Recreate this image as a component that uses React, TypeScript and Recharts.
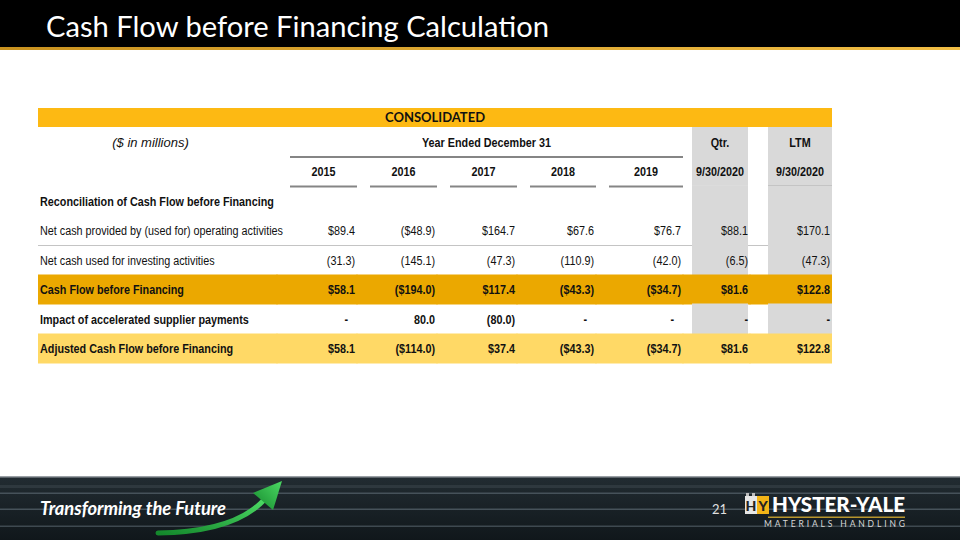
import { ComposedChart, Bar, XAxis, YAxis } from "recharts";

// ---- table content ----
const unitsNote = "($ in millions)";
const yearGroup = "Year Ended December 31";
const qtrGroup = "Qtr.";
const ltmGroup = "LTM";
const periods = ["2015", "2016", "2017", "2018", "2019", "9/30/2020", "9/30/2020"];
const sectionTitle = "Reconciliation of Cash Flow before Financing";
const rowLabels = [
  "Net cash provided by (used for) operating activities",
  "Net cash used for investing activities",
  "Cash Flow before Financing",
  "Impact of accelerated supplier payments",
  "Adjusted Cash Flow before Financing",
];
const operating = [89.4, -48.9, 164.7, 67.6, 76.7, 88.1, 170.1];
const investing = [-31.3, -145.1, -47.3, -110.9, -42.0, -6.5, -47.3];
const cashFlowBeforeFinancing = [58.1, -194.0, 117.4, -43.3, -34.7, 81.6, 122.8];
const supplierImpact = [null, 80.0, -80.0, null, null, null, null];
const adjusted = [58.1, -114.0, 37.4, -43.3, -34.7, 81.6, 122.8];

// ---- layout ----
const COL_W = [239, 80, 80, 80, 79, 87, 67, 82]; // label column + 7 period columns
const TOTAL = COL_W.reduce((a, b) => a + b, 0);
const YEAR_INSET = 13;
const GREY_INSET: Record<number, [number, number]> = { 6: [9, 2], 7: [18, 0] };
const FONT = "'Liberation Sans Narrow', 'Arial Narrow', 'Liberation Sans', Arial, sans-serif";
const FS = 13.5;
const SX = 0.8; // narrow the sans to look like Arial Narrow
const RULE = "#858585";
const GREY = "#D9D9D9";

type Row = {
  key: string;
  kind: "group" | "period" | "section" | "ruled" | "plain" | "gold" | "bold" | "light";
  label?: string;
  values?: (number | null)[];
  dollar?: boolean;
};

const rows: Row[] = [
  { key: "group", kind: "group" },
  { key: "period", kind: "period" },
  { key: "section", kind: "section", label: sectionTitle },
  { key: "operating", kind: "ruled", label: rowLabels[0], values: operating, dollar: true },
  { key: "investing", kind: "plain", label: rowLabels[1], values: investing },
  { key: "cfbf", kind: "gold", label: rowLabels[2], values: cashFlowBeforeFinancing, dollar: true },
  { key: "impact", kind: "bold", label: rowLabels[3], values: supplierImpact },
  { key: "adjusted", kind: "light", label: rowLabels[4], values: adjusted, dollar: true },
];

function fmt(v: number | null, dollar?: boolean) {
  if (v == null) return "-";
  const s = (dollar ? "$" : "") + Math.abs(v).toFixed(1);
  return v < 0 ? `(${s})` : s;
}

function cellShape(col: number) {
  return (p: any) => {
    const { x, y, width, height, payload } = p;
    const row = payload as Row;
    const right = x + width;
    const bottom = y + height;
    const ty = y + height / 2 + FS * 0.36;
    const isGrey = col >= 6;
    const [gl, gr] = isGrey ? GREY_INSET[col] : [0, 0];
    const gx0 = x + gl;
    const gx1 = right - gr;
    const bold = !(row.kind === "plain" || row.kind === "ruled");
    const els: any[] = [];

    // backgrounds
    if (row.kind === "gold") {
      els.push(<rect key="bg" x={x - 0.5} y={y} width={width + 1} height={height} fill="#EBA800" />);
    } else if (row.kind === "light") {
      els.push(<rect key="bg" x={x - 0.5} y={y} width={width + 1} height={height} fill="#FFD966" />);
    } else if (isGrey) {
      els.push(<rect key="bg" x={gx0} y={y - 0.5} width={gx1 - gx0} height={height + 1} fill={GREY} />);
    }

    const txt = (key: string, tx: number, s: string, anchor: string, extra: any = {}, sx = SX) => (
      <text key={key} transform={`translate(${tx} ${ty}) scale(${sx} 1)`} textAnchor={anchor}
        fontFamily={FONT} fontSize={FS} fontWeight={bold ? 700 : 400} fill="#111" {...extra}>{s}</text>
    );

    if (row.kind === "group") {
      if (col === 0)
        els.push(txt("t", x + width / 2 - 7, unitsNote, "middle", { fontWeight: 400, fontStyle: "italic", fontSize: 13 }, 1));
      if (col === 1) {
        const unit = width / COL_W[1];
        const span = COL_W.slice(1, 6).reduce((a, b) => a + b, 0) * unit;
        els.push(txt("t", x + (YEAR_INSET + span) / 2, yearGroup, "middle"));
      }
      if (col === 6) els.push(txt("t", (gx0 + gx1) / 2, qtrGroup, "middle"));
      if (col === 7) els.push(txt("t", (gx0 + gx1) / 2, ltmGroup, "middle"));
      if (col >= 1 && col <= 5)
        els.push(<line key="r" x1={col === 1 ? x + YEAR_INSET : x} x2={right} y1={bottom} y2={bottom} stroke={RULE} strokeWidth={2} />);
    } else if (row.kind === "period") {
      if (col >= 1 && col <= 5) {
        els.push(txt("t", (x + YEAR_INSET + right) / 2, periods[col - 1], "middle"));
        els.push(<line key="r" x1={x + YEAR_INSET} x2={right} y1={bottom} y2={bottom} stroke={RULE} strokeWidth={2} />);
      }
      if (isGrey) els.push(txt("t", (gx0 + gx1) / 2, periods[col - 1], "middle"));
    } else if (col === 0) {
      els.push(txt("t", x + 2, row.label || "", "start"));
    } else if (row.values) {
      const v = row.values[col - 1];
      const pad = v == null && !isGrey ? 9 : 2;
      els.push(txt("t", right - pad, fmt(v, row.dollar), "end"));
    }

    // grey column rules
    if (isGrey && (row.kind === "group" || row.kind === "period")) {
      if (col === 6)
        els.push(<line key="g" x1={gx0} x2={gx1} y1={bottom} y2={bottom} stroke="#F2F2F2" strokeWidth={1.5} />);
      else
        els.push(<line key="g" x1={gx0} x2={gx1} y1={bottom} y2={bottom} stroke={RULE} strokeWidth={2} />);
    }
    if (row.kind === "ruled")
      els.push(<line key="u" x1={x} x2={right} y1={bottom} y2={bottom} stroke="#C4C4C4" strokeWidth={1} />);

    return <g>{els}</g>;
  };
}

function Slide() {
  return (
    <svg width={960} height={540} style={{ position: "absolute", left: 0, top: 0, pointerEvents: "none" }}>
      <defs>
        <linearGradient id="goldRule" x1="0" x2="1" y1="0" y2="0">
          <stop offset="0" stopColor="#C9921F" />
          <stop offset="1" stopColor="#F2BE45" />
        </linearGradient>
        <linearGradient id="foot" x1="0" x2="0" y1="0" y2="1">
          <stop offset="0" stopColor="#222C32" />
          <stop offset="1" stopColor="#10171B" />
        </linearGradient>
        <linearGradient id="arrow" x1="0" x2="1" y1="1" y2="0">
          <stop offset="0" stopColor="#14882C" />
          <stop offset="1" stopColor="#4CD964" />
        </linearGradient>
      </defs>

      {/* header */}
      <rect x={0} y={0} width={960} height={47} fill="#000" />
      <rect x={0} y={47} width={960} height={3} fill="url(#goldRule)" />
      <text x={46} y={37} fill="#fff" fontFamily="Lato, 'Open Sans', sans-serif" fontSize={29}
        textLength={503} lengthAdjust="spacingAndGlyphs">Cash Flow before Financing Calculation</text>

      {/* table title bar */}
      <rect x={38} y={108} width={794} height={19} fill="#FDB913" />
      <text x={435} y={122} textAnchor="middle" fill="#111" fontFamily="Lato, sans-serif" fontWeight={700} fontSize={13}>CONSOLIDATED</text>

      {/* footer */}
      <g transform="translate(0,476)">
        <rect x={0} y={0} width={960} height={64} fill="url(#foot)" />
        <rect x={0} y={0} width={960} height={1.5} fill="#9AA0A5" />
        <rect x={0} y={9} width={960} height={3} fill="#2E383E" />
        <rect x={0} y={16.5} width={960} height={1.5} fill="#46525A" />
        <rect x={0} y={32.5} width={960} height={1.5} fill="#46525A" />
        <rect x={0} y={49.5} width={960} height={1.5} fill="#3E4950" />
        <text x={40} y={39} fill="#fff" fontFamily="Lato, sans-serif" fontWeight={700} fontStyle="italic"
          fontSize={18} textLength={186} lengthAdjust="spacingAndGlyphs">Transforming the Future</text>
        <path d="M158 57 Q 234 56 264 24" stroke="url(#arrow)" strokeWidth={5} fill="none" strokeLinecap="round" />
        <path d="M282 5 L 253 17 L 273 34 Z" fill="url(#arrow)" />
        <text x={712} y={38} fill="#E0E0E0" fontFamily="Lato, sans-serif" fontSize={13}>21</text>
        <rect x={745} y={20} width={12} height={18} fill="#E6E6E6" />
        <rect x={757} y={20} width={12} height={18} fill="#F2B417" />
        <rect x={746} y={17} width={3} height={3} fill="#BDBDBD" />
        <rect x={752} y={17} width={3} height={3} fill="#BDBDBD" />
        <text x={751} y={35} textAnchor="middle" fill="#222" fontFamily="Lato, sans-serif" fontWeight={900} fontSize={14}>H</text>
        <text x={763} y={35} textAnchor="middle" fill="#222" fontFamily="Lato, sans-serif" fontWeight={900} fontSize={14}>Y</text>
        <text x={772} y={36} fill="#fff" fontFamily="Lato, sans-serif" fontWeight={900} fontSize={20}
          textLength={133} lengthAdjust="spacingAndGlyphs">HYSTER-YALE</text>
        <rect x={768} y={40.5} width={137} height={1.5} fill="#B8962E" />
        <text x={764} y={51} fill="#D8D8D8" fontFamily="Lato, sans-serif" fontSize={8.5}
          textLength={141} lengthAdjust="spacing">MATERIALS HANDLING</text>
      </g>
    </svg>
  );
}

export default function App() {
  return (
    <div style={{ position: "absolute", left: 0, top: 0, width: 960, height: 540, background: "#fff", overflow: "hidden" }}>
      <div style={{ position: "absolute", left: 0, top: 0 }}>
        <ComposedChart layout="vertical" width={960} height={540} data={rows}
          margin={{ top: 127, right: 128, bottom: 177, left: 38 }} barCategoryGap={0} barGap={0}>
          <XAxis type="number" hide domain={[0, TOTAL]} allowDataOverflow />
          <YAxis type="category" dataKey="key" hide />
          {COL_W.map((w, i) => (
            <Bar key={i} dataKey={() => w} stackId="table" isAnimationActive={false} shape={cellShape(i)} />
          ))}
        </ComposedChart>
      </div>
      <Slide />
    </div>
  );
}
